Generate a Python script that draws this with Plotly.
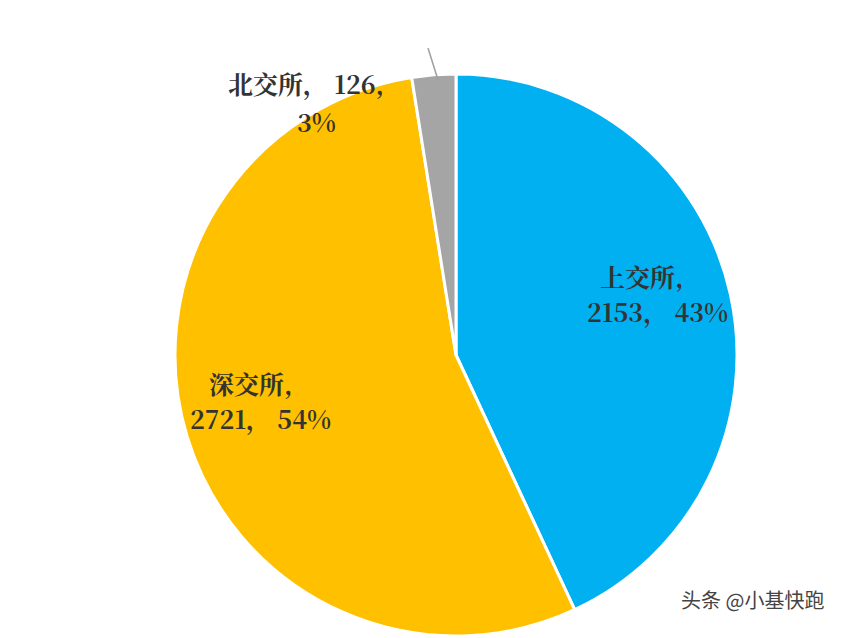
import plotly.graph_objects as go

labels = ["上交所", "深交所", "北交所"]
values = [2153, 2721, 126]
colors = ["#00B0F0", "#FFC000", "#A5A5A5"]

W, H = 860, 638


def px(x, y):
    return x / W, 1 - y / H


fig = go.Figure(go.Pie(
    labels=labels,
    values=values,
    sort=False,
    direction="clockwise",
    rotation=0,
    marker=dict(colors=colors, line=dict(color="white", width=3)),
    textinfo="none",
    hoverinfo="label+value+percent",
    domain=dict(x=[158 / W, 738 / W], y=[10 / H, 572 / H]),
))

total = sum(values)
pct = [round(v / total * 100) for v in values]
font = dict(family="Noto Serif CJK SC, Noto Sans CJK SC", size=25, color="#333333")
texts = [
    (590, 268, f"<b>{labels[0]},</b>"),
    (577, 303, f"<b>{values[0]}， {pct[0]}%</b>"),
    (199, 375, f"<b>{labels[1]},</b>"),
    (180, 410, f"<b>{values[1]}， {pct[1]}%</b>"),
    (218, 55, f"<b>{labels[2]}， {values[2]},</b>"),
    (287, 93, f"<b>{pct[2]}%</b>"),
]
for x, y, t in texts:
    ax, ay = px(x, y)
    fig.add_annotation(x=ax, y=ay, xref="paper", yref="paper", text=t, xanchor="left",
                       showarrow=False, font=font)

x0, y0 = px(420, 40)
x1, y1 = px(430, 72)
fig.add_shape(type="line", xref="paper", yref="paper", x0=x0, y0=y0, x1=x1, y1=y1,
              line=dict(color="#A0A0A0", width=1.5))

wx, wy = px(671, 608)
fig.add_annotation(x=wx, y=wy, xref="paper", yref="paper", text="头条 @小基快跑", xanchor="left",
                   showarrow=False, font=dict(family="Noto Sans CJK SC", size=20, color="#444444"))

fig.update_layout(width=W, height=H, margin=dict(l=0, r=0, t=0, b=0),
                  showlegend=False, paper_bgcolor="white")
fig.write_html("out.html")
